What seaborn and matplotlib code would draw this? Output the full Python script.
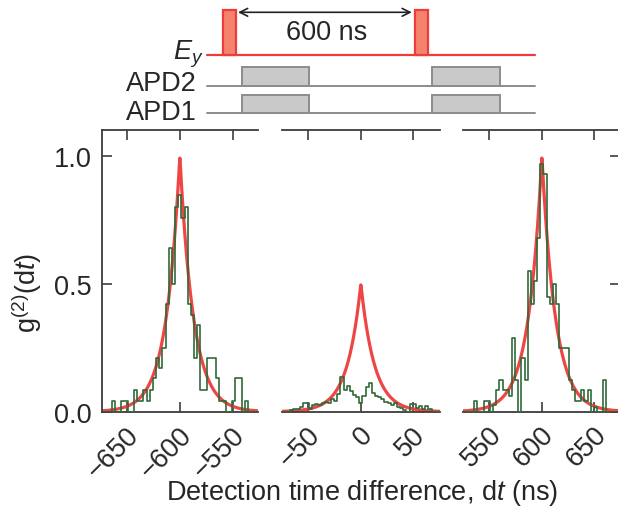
import numpy as np
import pandas as pd
import matplotlib
matplotlib.use("Agg")
import matplotlib.pyplot as plt
import matplotlib.transforms as mtransforms
import seaborn as sns
from matplotlib.patches import Rectangle

sns.set_theme(style="ticks")
plt.rcParams['font.family'] = ['Liberation Sans', 'DejaVu Sans']
plt.rcParams['mathtext.fontset'] = 'custom'
plt.rcParams['mathtext.rm'] = 'Liberation Sans'
plt.rcParams['mathtext.it'] = 'Liberation Sans:italic'
plt.rcParams['mathtext.bf'] = 'Liberation Sans:bold'
TXT = '#262626'
plt.rcParams['text.color'] = TXT
plt.rcParams['axes.labelcolor'] = TXT
plt.rcParams['xtick.labelcolor'] = TXT
plt.rcParams['ytick.labelcolor'] = TXT

FS = 19.5

# ---------------- data ----------------
bin_width = 3.0
panel_centers = [-600, 0, 600]

left_vals = [0, 0, 0, 0.043, 0, 0, 0.043, 0.043, 0, 0, 0.085, 0.043, 0.043,
             0.085, 0.043, 0.085, 0.13, 0.21, 0.17, 0.25, 0.42, 0.64, 0.50, 0.80,
             0.85,
             0.76, 0.80, 0.42, 0.38, 0.21, 0.34, 0.085, 0.085, 0.21, 0.21, 0.21,
             0.13, 0.043, 0.043, 0, 0, 0.043, 0.13, 0.13, 0, 0.043, 0, 0, 0]
mid_vals = [0, 0, 0, 0.008, 0.010, 0.010, 0.017, 0.034, 0.034, 0.010, 0.026,
            0.030, 0.026, 0.033, 0.039, 0.033, 0.048, 0.043, 0.070, 0.134, 0.085,
            0.100, 0.082, 0.065, 0.056,
            0.033,
            0.061, 0.098, 0.114, 0.075, 0.061, 0.056, 0.048, 0.039, 0.033, 0.026,
            0.033, 0.020, 0.013, 0.007, 0, 0.030, 0.030, 0.013, 0.023, 0.010,
            0.023, 0.010, 0, 0, 0]
right_vals = [0, 0, 0, 0.043, 0, 0, 0.043, 0.043, 0, 0.026, 0.085, 0.124, 0.085,
              0.085, 0.06, 0.29, 0.124, 0, 0.21, 0.124, 0.55, 0.42, 0.51, 0.68,
              0.97,
              0.93, 0.45, 0.42, 0.50, 0.42, 0.25, 0.25, 0.25, 0.124, 0.085, 0.043,
              0.043, 0.085, 0.043, 0.085, 0, 0.02, 0, 0, 0.124, 0, 0, 0, 0]
panel_vals = [left_vals, mid_vals, right_vals]

fit_amplitudes = [1.0, 0.5, 1.0]
fit_tau = 13.0

xlims = [(-674, -526), (-75.5, 75.5), (524.5, 674)]
xticks = [[-650, -600, -550], [-50, 0, 50], [550, 600, 650]]
yticks = [0.0, 0.5, 1.0]
ylim = (0, 1.103)

# schematic (pulse sequence) in ns
pulse_centers = [0, 600]
pulse_width = 40
gate_windows = [(37, 249), (631, 845)]
trace_span = (-71, 954)

RED = '#ee3b3b'
GREEN = '#2f6a38'
SPINE = '#3c3c3c'

fig = plt.figure(figsize=(6.18, 5.10), dpi=100)

W, H = 618.0, 510.0
def px_axes(x0, x1, ytop, ybot):
    return [x0 / W, 1 - ybot / H, (x1 - x0) / W, (ybot - ytop) / H]

ax_pos = [px_axes(101.7, 258.0, 131.0, 412.7),
          px_axes(281.7, 440.0, 131.0, 412.7),
          px_axes(462.7, 619.5, 131.0, 412.7)]

label_shift = mtransforms.ScaledTranslation(8 / 100, -5 / 100, fig.dpi_scale_trans)

for i in range(3):
    ax = fig.add_axes(ax_pos[i])
    c = panel_centers[i]
    vals = np.array(panel_vals[i], dtype=float)
    n = len(vals)
    k = np.arange(n) - (n - 1) // 2
    centers = c + k * bin_width
    edges = list(np.concatenate([centers - bin_width / 2,
                                 [centers[-1] + bin_width / 2]]))
    df = pd.DataFrame({'t': centers, 'g2': vals})
    # fit curve
    t = np.linspace(xlims[i][0], xlims[i][1], 800)
    fit = fit_amplitudes[i] * np.exp(-np.abs(t - c) / fit_tau)
    fdf = pd.DataFrame({'t': t, 'fit': fit})
    sns.lineplot(data=fdf, x='t', y='fit', ax=ax, color=RED, linewidth=2.3,
                 estimator=None, sort=False, alpha=0.95, zorder=2)
    sns.histplot(data=df, x='t', weights='g2', bins=edges, element='step',
                 fill=False, color=GREEN, linewidth=1.2, ax=ax, zorder=3)
    ax.set_xlim(*xlims[i])
    ax.set_ylim(*ylim)
    ax.set_xlabel('')
    ax.set_ylabel('')
    ax.set_xticks(xticks[i])
    ax.set_xticklabels([f'{v:d}'.replace('-', '\u2212') for v in xticks[i]],
                       rotation=45, ha='right', va='center',
                       rotation_mode='anchor')
    ax.tick_params(axis='x', direction='in', top=True, bottom=True,
                   length=7, width=1.2, color=SPINE, labelsize=FS, pad=10)
    for lab in ax.get_xticklabels():
        lab.set_transform(lab.get_transform() + label_shift)
    for side in ['top', 'bottom', 'left', 'right']:
        ax.spines[side].set_color(SPINE)
        ax.spines[side].set_linewidth(1.3)
    if i == 0:
        ax.set_yticks(yticks)
        ax.set_yticklabels([f'{v:.1f}' for v in yticks])
        ax.tick_params(axis='y', direction='in', left=True, right=False,
                       length=7, width=1.2, color=SPINE, labelsize=FS, pad=7)
        ax.spines['right'].set_visible(False)
        ax.set_ylabel(r'$\mathrm{g}^{\mathrm{(2)}}\mathrm{(d}t\mathrm{)}$',
                      fontsize=FS)
        ax.yaxis.set_label_coords(-0.37, 0.425)
    elif i == 1:
        ax.set_yticks([])
        ax.spines['left'].set_visible(False)
        ax.spines['right'].set_visible(False)
    else:
        ax.set_yticks(yticks)
        ax.tick_params(axis='y', direction='in', left=False, right=True,
                       labelleft=False, labelright=False,
                       length=7, width=1.2, color=SPINE)
        ax.spines['left'].set_visible(False)
    ax.patch.set_alpha(0)

fig.text(362 / W, 1 - 493 / H, r'Detection time difference, d$\it{t}$ (ns)',
         ha='center', va='center', fontsize=FS)

# ---------------- pulse schematic ----------------
axd = fig.add_axes([0, 1 - 130 / H, 1, 130 / H])
axd.set_xlim((0 - 229.7) / 0.32, (618 - 229.7) / 0.32)
axd.set_ylim(130, 0)
axd.axis('off')

ey_level, apd2_level, apd1_level = 56.0, 86.7, 114.3
pulse_h, gate_h = 45.0, 18.4

axd.plot(trace_span, [ey_level, ey_level], color=RED, lw=1.6, zorder=1)
for pc in pulse_centers:
    axd.add_patch(Rectangle((pc - pulse_width / 2, ey_level - pulse_h), pulse_width,
                            pulse_h, facecolor='#f4826c', edgecolor=RED, lw=1.6,
                            zorder=2))
for lvl in [apd2_level, apd1_level]:
    axd.plot(trace_span, [lvl, lvl], color='#8c8c8c', lw=1.4, zorder=1)
    for g0, g1 in gate_windows:
        axd.add_patch(Rectangle((g0, lvl - gate_h), g1 - g0, gate_h,
                                facecolor='#c9c9c9', edgecolor='#8c8c8c', lw=1.4,
                                zorder=2))

axd.annotate('', xy=(pulse_centers[1] - pulse_width / 2 - 11, 13.3),
             xytext=(pulse_centers[0] + pulse_width / 2 + 6, 13.3),
             arrowprops=dict(arrowstyle='<->', color='#222222', lw=1.2,
                             shrinkA=0, shrinkB=0, mutation_scale=14))
axd.text(304, 33, '600 ns', ha='center', va='center', fontsize=FS)
axd.text(-83, 59.7, r'$E_y$', ha='right', va='baseline', fontsize=FS)
axd.text(-102, 91.4, 'APD2', ha='right', va='baseline', fontsize=FS)
axd.text(-102, 119.7, 'APD1', ha='right', va='baseline', fontsize=FS)

fig.savefig('out.png', dpi=100)
